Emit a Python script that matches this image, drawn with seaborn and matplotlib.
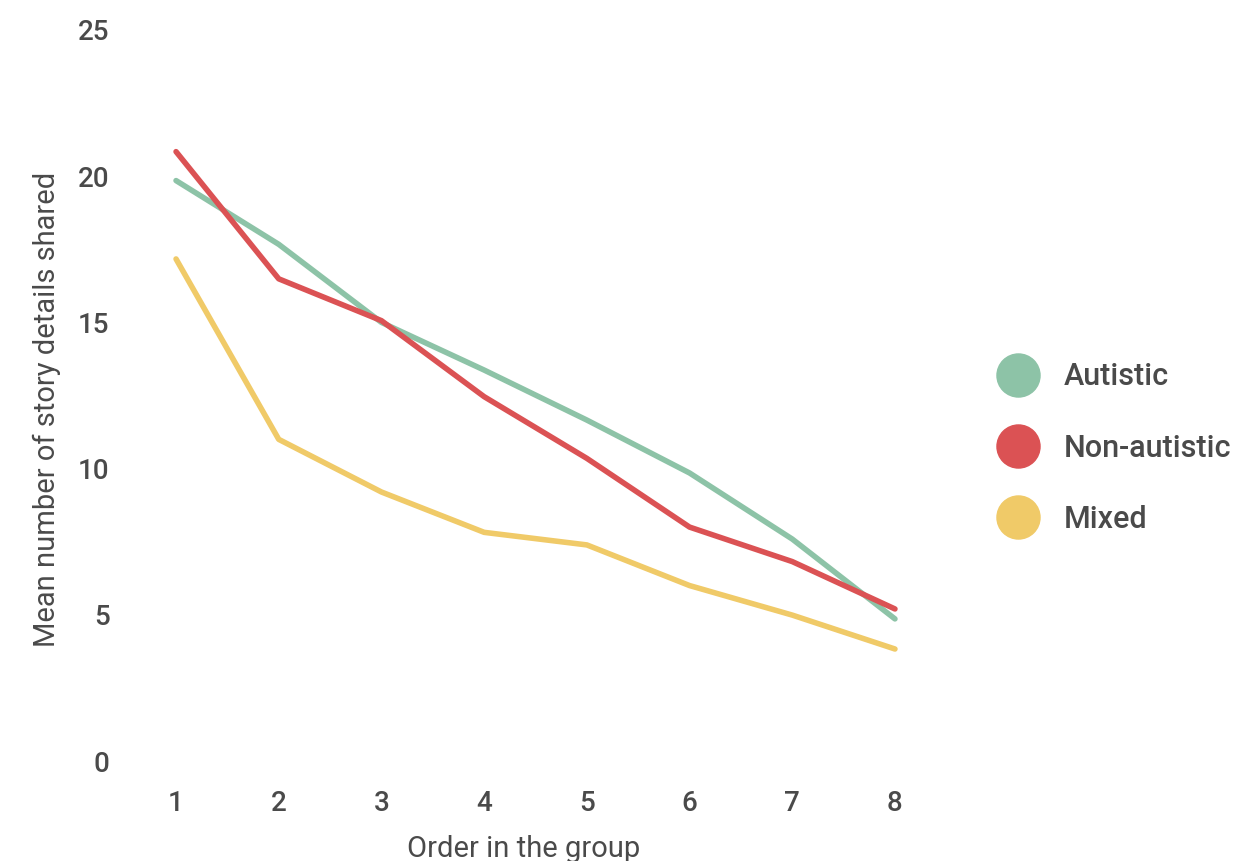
import pandas as pd
import matplotlib
matplotlib.use("Agg")
import matplotlib.pyplot as plt
import seaborn as sns
from matplotlib.lines import Line2D

# values
order = [1, 2, 3, 4, 5, 6, 7, 8]
autistic = [19.85, 17.67, 15.0, 13.37, 11.66, 9.85, 7.59, 4.86]
non_autistic = [20.84, 16.49, 15.06, 12.46, 10.35, 8.0, 6.82, 5.2]
mixed = [17.17, 11.0, 9.2, 7.82, 7.39, 6.0, 4.99, 3.83]

groups = ["Autistic", "Non-autistic", "Mixed"]
colors = ["#8DC3A7", "#DB5254", "#F0CA68"]
text_color = "#4a4a4a"

df = pd.DataFrame({
    "order": order * 3,
    "details": autistic + non_autistic + mixed,
    "group": [g for g in groups for _ in order],
})

sns.set_style("white")
plt.rcParams["font.family"] = ["Roboto", "DejaVu Sans"]

fig = plt.figure(figsize=(12.33, 8.61), dpi=100)
W, H = 1233, 861
# axes placed so that x=1 -> 176px, x=8 -> 895px, y=0 -> 761px, y=25 -> 30px
ax = fig.add_axes([155.5 / W, 100 / H, 760 / W, 731 / H])

sns.lineplot(data=df, x="order", y="details", hue="group", hue_order=groups,
             palette=colors, linewidth=4, legend=False, ax=ax)

ax.set_xlim(0.8, 8.2)
ax.set_ylim(0, 25)
ax.set_xticks(order)
ax.set_yticks([0, 5, 10, 15, 20, 25])
ax.tick_params(axis="y", length=0, pad=33, labelsize=20, labelcolor=text_color)
ax.tick_params(axis="x", length=0, pad=21, labelsize=20, labelcolor=text_color)
for lab in ax.get_xticklabels() + ax.get_yticklabels():
    lab.set_fontweight("medium")
ax.set_xlabel("")
ax.set_ylabel("")
sns.despine(ax=ax, left=True, bottom=True)

fig.text(524 / W, 1 - 849 / H, "Order in the group", ha="center", va="center",
         fontsize=21, color=text_color)
fig.text(47 / W, 1 - 409 / H, "Mean number of story details shared", ha="center",
         va="center", rotation=90, fontsize=21, color=text_color)

handles = [Line2D([], [], linestyle="none", marker="o", markersize=31,
                  markerfacecolor=c, markeredgecolor=c) for c in colors]
leg = fig.legend(handles, groups, loc="center left",
                 bbox_to_anchor=(983 / W, 1 - 448 / H), frameon=False,
                 fontsize=22, labelspacing=1.38, handletextpad=0.85,
                 handlelength=1.3, borderpad=0)
for t in leg.get_texts():
    t.set_color(text_color)
    t.set_fontweight("medium")

fig.savefig("out.png", dpi=100)
